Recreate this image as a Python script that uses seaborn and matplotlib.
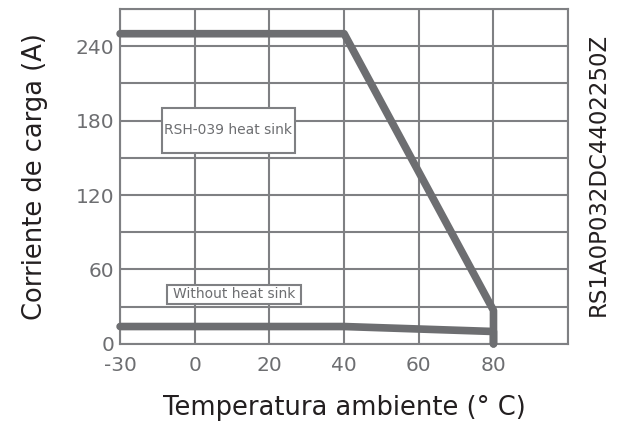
import numpy as np
import pandas as pd
import matplotlib
matplotlib.use("Agg")
import matplotlib.pyplot as plt
from matplotlib.patches import Rectangle
import seaborn as sns

# Data
x_ticks = [-30, 0, 20, 40, 60, 80]
x_grid_edges = [-30, 0, 20, 40, 60, 80, 100]
y_ticks = [0, 60, 120, 180, 240]

heatsink_temp = [-30, 40, 80, 80]
heatsink_current = [250, 250, 27, 0]

noheatsink_temp = [-30, 40, 80, 80]
noheatsink_current = [14, 14, 10, 0]

label_heatsink = "RSH-039 heat sink"
label_noheatsink = "Without heat sink"
code_text = "RS1A0P032DC4402250Z"

sns.set_theme(style="white")
plt.rcParams['font.family'] = ['DejaVu Sans']

line_color = "#6d6e71"
grid_color = "#7f8083"
tick_color = "#6d6e71"

fig = plt.figure(figsize=(6.32, 4.23), dpi=100)
ax = fig.add_axes([0.190, 0.187, 0.709, 0.792])

# piecewise scale: each labelled interval gets equal width
pos = np.arange(len(x_grid_edges), dtype=float)
edges = np.array(x_grid_edges, dtype=float)
def fwd(v):
    return np.interp(v, edges, pos)
def inv(p):
    return np.interp(p, pos, edges)
ax.set_xscale('function', functions=(fwd, inv))

df1 = pd.DataFrame({"t": heatsink_temp, "i": heatsink_current})
df2 = pd.DataFrame({"t": noheatsink_temp, "i": noheatsink_current})
for df in (df1, df2):
    sns.lineplot(data=df, x="t", y="i", sort=False, estimator=None, ax=ax,
                 color=line_color, linewidth=5.5, solid_capstyle='round',
                 solid_joinstyle='round', clip_on=False, zorder=5)

ax.set_xlim(-30, 100)
ax.set_ylim(0, 270)
ax.set_xticks(x_ticks)
ax.set_xticks([100], minor=True)
ax.set_xticklabels([str(v) for v in x_ticks])
ax.set_yticks(y_ticks)
ax.set_yticks([30, 90, 150, 210, 270], minor=True)
ax.grid(True, which='both', color=grid_color, linewidth=1.5)
ax.set_axisbelow(True)
for s in ax.spines.values():
    s.set_visible(True)
    s.set_color(grid_color)
    s.set_linewidth(1.5)

ax.tick_params(axis='both', which='both', length=0, labelsize=14.5, labelcolor=tick_color)
ax.tick_params(axis='x', pad=9)
ax.tick_params(axis='y', pad=4)

ax.set_xlabel("Temperatura ambiente (° C)", fontsize=18.5, color="#231f20", labelpad=14)
ax.set_ylabel("Corriente de carga (A)", fontsize=18.5, color="#231f20", labelpad=20)

# Annotation boxes
ax.add_patch(Rectangle((0.094, 0.570), 0.297, 0.134, transform=ax.transAxes,
                       facecolor='white', edgecolor=grid_color, linewidth=1.5, zorder=6))
ax.text(0.098, 0.637, label_heatsink, transform=ax.transAxes, fontsize=10,
        color=tick_color, va='center', ha='left', zorder=7)
ax.add_patch(Rectangle((0.104, 0.119), 0.300, 0.057, transform=ax.transAxes,
                       facecolor='white', edgecolor=grid_color, linewidth=1.5, zorder=6))
ax.text(0.254, 0.148, label_noheatsink, transform=ax.transAxes, fontsize=10,
        color=tick_color, va='center', ha='center', zorder=7)

fig.text(0.947, 0.588, code_text, rotation=90, fontsize=16.5, color="#231f20",
         ha='center', va='center')

fig.savefig("out.png", dpi=100)
